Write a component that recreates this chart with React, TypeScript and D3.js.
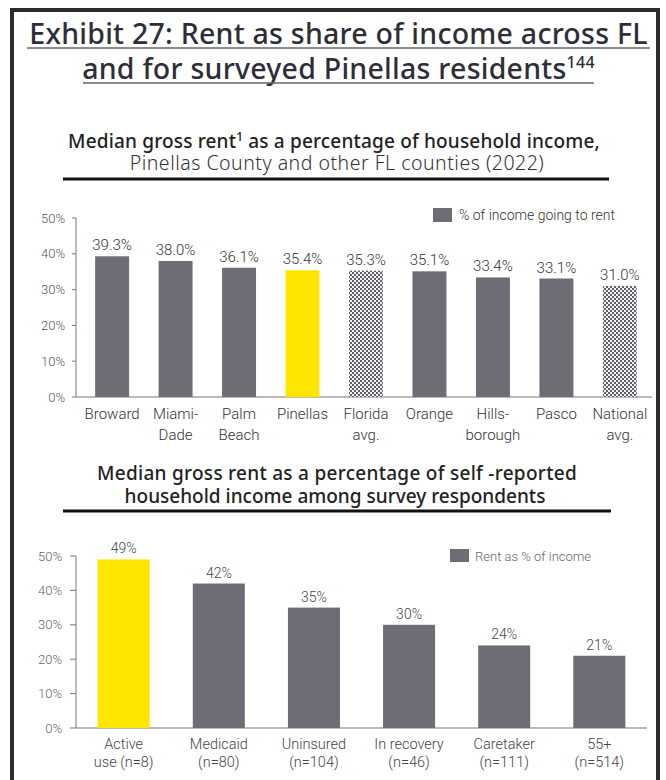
import React from "react";
import * as d3 from "d3";

// ---------- data ----------
const countyNames = ["Broward", "Miami-Dade", "Palm Beach", "Pinellas", "Florida avg.", "Orange", "Hillsborough", "Pasco", "National avg."];
const countyLabelLines = [["Broward"], ["Miami-", "Dade"], ["Palm", "Beach"], ["Pinellas"], ["Florida", "avg."], ["Orange"], ["Hills-", "borough"], ["Pasco"], ["National", "avg."]];
const countyValues = [39.3, 38.0, 36.1, 35.4, 35.3, 35.1, 33.4, 33.1, 31.0];
const countyKinds = ["county", "county", "county", "highlight", "average", "county", "county", "county", "average"];
const countyValueLabels = ["39.3%", "38.0%", "36.1%", "35.4%", "35.3%", "35.1%", "33.4%", "33.1%", "31.0%"];

const surveyGroups = ["Active use (n=8)", "Medicaid (n=80)", "Uninsured (n=104)", "In recovery (n=46)", "Caretaker (n=111)", "55+ (n=514)"];
const surveyLabelLines = [["Active", "use (n=8)"], ["Medicaid", "(n=80)"], ["Uninsured", "(n=104)"], ["In recovery", "(n=46)"], ["Caretaker", "(n=111)"], ["55+", "(n=514)"]];
const surveyValues = [49, 42, 35, 30, 24, 21];
const surveyKinds = ["highlight", "group", "group", "group", "group", "group"];

const yTickValues = [0, 10, 20, 30, 40, 50];
const topLegendLabel = "% of income going to rent";
const bottomLegendLabel = "Rent as % of income";

// ---------- style ----------
const GRAY = "#6d6d76";
const YELLOW = "#ffe600";
const FONT = "Roboto, 'Noto Sans', sans-serif";
const HEAD = "'Noto Sans', 'Open Sans', sans-serif";

export default function App() {
  // top chart scales
  const xTop = d3.scaleBand<string>().domain(countyNames).range([78, 654]).paddingInner(0.465).paddingOuter(0.27);
  const yTop = d3.scaleLinear().domain([0, 50]).range([397, 218]);
  // bottom chart scales
  const xBot = d3.scaleBand<string>().domain(surveyGroups).range([76, 647]).paddingInner(0.453).paddingOuter(0.228);
  const yBot = d3.scaleLinear().domain([0, 50]).range([728, 556]);

  const fillFor = (kind: string) => (kind === "highlight" ? YELLOW : kind === "average" ? "url(#checker)" : GRAY);

  const yAxis = (y: d3.ScaleLinear<number, number>, x0: number, labelEnd: number, tick: number, color: string) => (
    <g>
      <line x1={x0} x2={x0} y1={y(50)} y2={y(0)} stroke="#777" strokeWidth={1} />
      {yTickValues.map((t) => (
        <g key={t}>
          <line x1={x0 - tick} x2={x0} y1={y(t)} y2={y(t)} stroke="#777" strokeWidth={1} />
          <text x={labelEnd} y={y(t)} dy="0.35em" textAnchor="end" fontSize={13} fontWeight={300} fill={color}>
            {t + "%"}
          </text>
        </g>
      ))}
    </g>
  );

  return (
    <svg width={666} height={780} style={{ position: "absolute", left: 0, top: 0, background: "#fff" }} fontFamily={FONT}>
      <defs>
        <pattern id="checker" width={4} height={4} patternUnits="userSpaceOnUse">
          <rect width={4} height={4} fill="#f4f4f4" />
          <rect x={0} y={0} width={2} height={2} fill="#5e5e66" />
          <rect x={2} y={2} width={2} height={2} fill="#5e5e66" />
        </pattern>
      </defs>

      {/* frame */}
      <rect x={12} y={10} width={646} height={800} fill="none" stroke="#2b2b2b" strokeWidth={4} />

      {/* title */}
      <g fontFamily={HEAD}>
        <text x={338.5} y={44} textAnchor="middle" fontSize={28.5} fontWeight={500} letterSpacing={0.25} fill="#2e2e38">
          Exhibit 27: Rent as share of income across FL
        </text>
        <line x1={27} x2={650} y1={48} y2={48} stroke="#666" strokeWidth={1.5} />
        <text x={338.5} y={79} textAnchor="middle" fontSize={28.5} fontWeight={500} letterSpacing={0.25} fill="#2e2e38">
          and for surveyed Pinellas residents
          <tspan fontSize={16} dy={-11}>144</tspan>
        </text>
        <line x1={83} x2={594} y1={83} y2={83} stroke="#666" strokeWidth={1.5} />

        {/* subtitle 1 */}
        <text x={334} y={148} textAnchor="middle" fontSize={19} fontWeight={500} letterSpacing={0.17} fill="#222">
          Median gross rent
          <tspan fontSize={12} dy={-7}>1</tspan>
          <tspan dy={7}> as a percentage of household income,</tspan>
        </text>
        <text x={337} y={170} textAnchor="middle" fontSize={19.5} fontWeight={300} letterSpacing={0.5} fill="#333">
          Pinellas County and other FL counties (2022)
        </text>

        {/* subtitle 2 */}
        <text x={337} y={480} textAnchor="middle" fontSize={19} fontWeight={500} letterSpacing={0.28} fill="#222">
          Median gross rent as a percentage of self -reported
        </text>
        <text x={335} y={503} textAnchor="middle" fontSize={19} fontWeight={500} fill="#222">
          household income among survey respondents
        </text>
      </g>
      <line x1={63} x2={609} y1={179} y2={179} stroke="#111" strokeWidth={3} />
      <line x1={63} x2={611} y1={511} y2={511} stroke="#111" strokeWidth={3} />

      {/* top chart */}
      {yAxis(yTop, 76, 65, 4, "#555")}
      <line x1={76} x2={652} y1={yTop(0)} y2={yTop(0)} stroke="#777" strokeWidth={1.2} />
      {countyNames.map((c, i) => (
        <g key={c}>
          <rect x={xTop(c)} y={yTop(countyValues[i])} width={xTop.bandwidth()} height={yTop(0) - yTop(countyValues[i])} fill={fillFor(countyKinds[i])} />
          <text x={xTop(c)! + xTop.bandwidth() / 2} y={yTop(countyValues[i]) - 6} textAnchor="middle" fontSize={15} fontWeight={300} fill="#333">
            {countyValueLabels[i]}
          </text>
          {countyLabelLines[i].map((ln, j) => (
            <text key={j} x={xTop(c)! + xTop.bandwidth() / 2} y={419 + j * 21} textAnchor="middle" fontSize={15} fontWeight={300} fill="#333">
              {ln}
            </text>
          ))}
        </g>
      ))}
      <rect x={433} y={208} width={19} height={14} fill={GRAY} />
      <text x={459} y={220} fontSize={14} fontWeight={300} fill="#333">{topLegendLabel}</text>

      {/* bottom chart */}
      {yAxis(yBot, 76, 62, 6, "#666")}
      <line x1={76} x2={647} y1={yBot(0)} y2={yBot(0)} stroke="#777" strokeWidth={1.2} />
      {surveyGroups.map((g, i) => (
        <g key={g}>
          <rect x={xBot(g)} y={yBot(surveyValues[i])} width={xBot.bandwidth()} height={yBot(0) - yBot(surveyValues[i])} fill={fillFor(surveyKinds[i])} />
          <text x={xBot(g)! + xBot.bandwidth() / 2} y={yBot(surveyValues[i]) - 6} textAnchor="middle" fontSize={14} fontWeight={300} fill="#444">
            {surveyValues[i] + "%"}
          </text>
          {surveyLabelLines[i].map((ln, j) => (
            <text key={j} x={xBot(g)! + xBot.bandwidth() / 2} y={749 + j * 18} textAnchor="middle" fontSize={14.5} fontWeight={300} fill="#444">
              {ln}
            </text>
          ))}
        </g>
      ))}
      <rect x={450} y={549} width={19} height={13} fill={GRAY} />
      <text x={475} y={561} fontSize={13} fontWeight={300} fill="#666">{bottomLegendLabel}</text>
    </svg>
  );
}
